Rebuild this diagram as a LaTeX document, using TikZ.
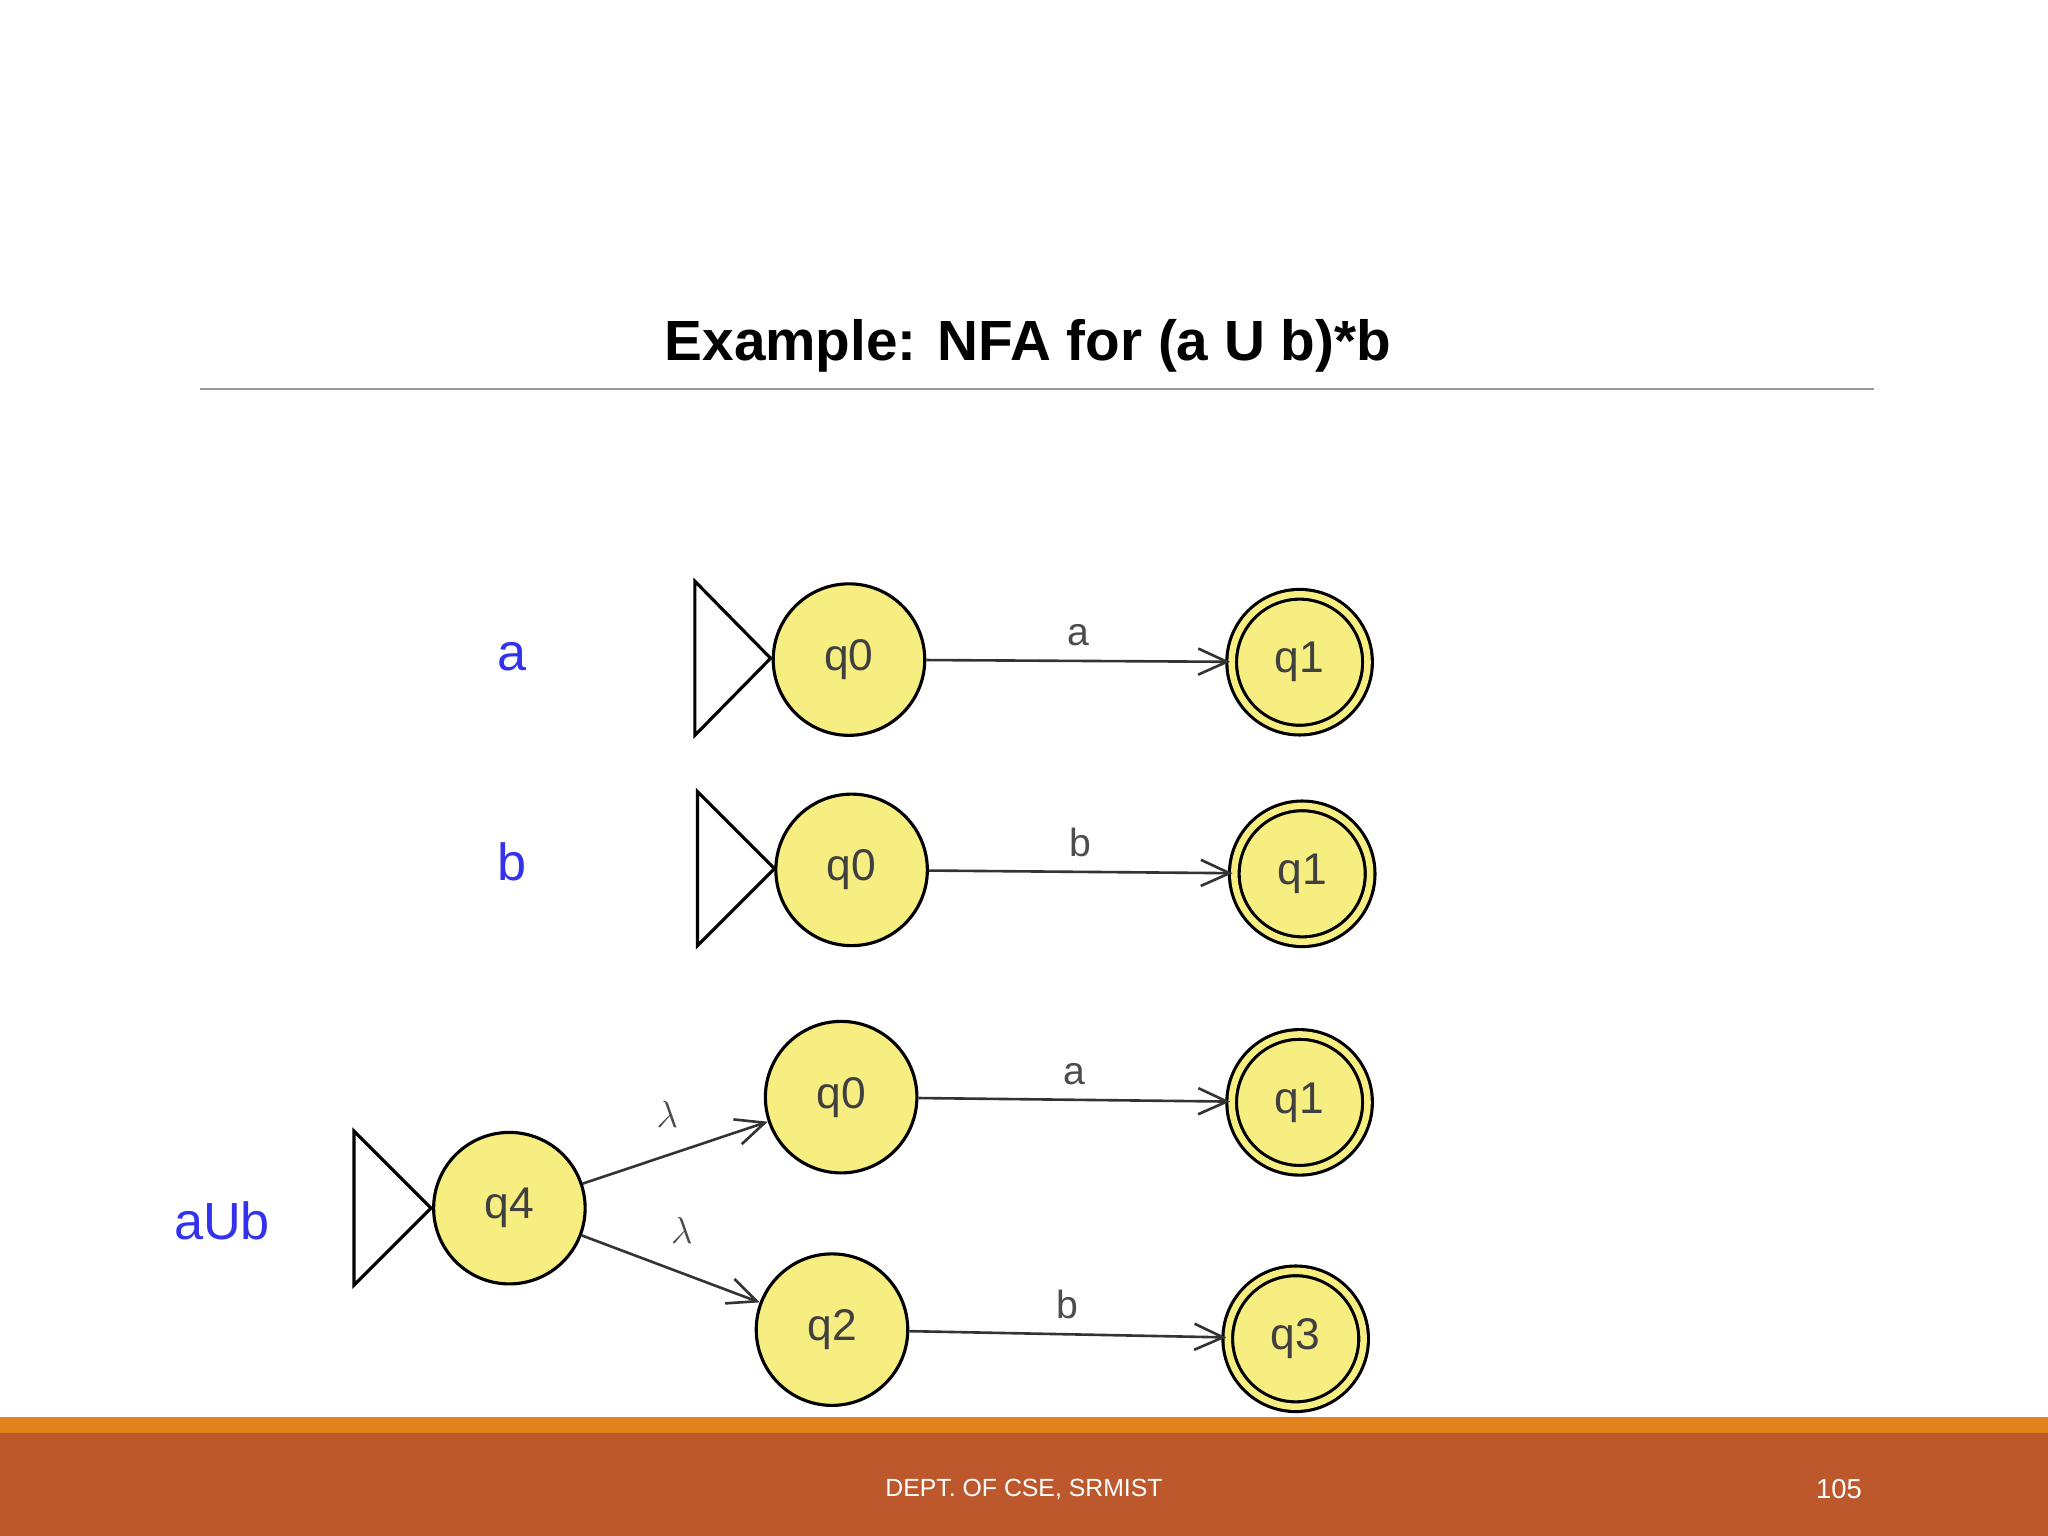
\documentclass[tikz,border=0pt]{standalone}
\usepackage{fontspec}
\setmainfont{Liberation Sans}
\usetikzlibrary{arrows.meta}
\definecolor{sy}{HTML}{F6EE80}
\definecolor{band}{HTML}{BD582C}
\definecolor{stripe}{HTML}{E2821C}
\definecolor{lblue}{HTML}{3333EE}
\tikzset{
 st/.style={circle,draw=black,line width=1.2pt,fill=sy,minimum size=58pt,inner sep=0pt,font=\fontsize{17}{17}\selectfont,text=black!75},
 acc/.style={st,double=sy,double distance=2.5pt,minimum size=52pt},
 tr/.style={-{Straight Barb[length=11pt,width=10pt,line width=1pt]},line width=1pt,black!80},
 lab/.style={font=\fontsize{15}{15}\selectfont,text=black!70},
 big/.style={font=\fontsize{20}{20}\selectfont,text=lblue},
 start/.style={draw=black,line width=1.2pt,fill=white}
}
\begin{document}
\begin{tikzpicture}[x=0.5pt,y=-0.5pt]
\useasboundingbox (0,0) rectangle (1568,1176);
\fill[band] (0,1097) rectangle (1568,1176);
\fill[stripe] (0,1085) rectangle (1568,1097);
\node[font=\bfseries\fontsize{21.7}{22}\selectfont] (title) at (787,265) {Example: NFA for (a U b)*b};
\draw[black!40,line width=0.6pt] (153,298) coordinate (l1) -- (1435,298) coordinate (l2);
\node[text=white,font=\fontsize{9.5}{10}\selectfont] (foot) at (784,1140) {DEPT. OF CSE, SRMIST};
\node[text=white,font=\fontsize{10.5}{11}\selectfont] (pg) at (1408,1140) {105};
% row 1
\draw[start] (532,445) -- (532,563) -- (590,504) -- cycle;
\node[st] (a0) at (650,505) {q0};
\node[acc] (a1) at (995,507) {q1};
\draw[tr] (a0) -- node[lab,above,yshift=2pt]{a} (a1);
\node[big] (la) at (392,503) {a};
% row 2
\draw[start] (534,606) -- (534,724) -- (593,665) -- cycle;
\node[st] (b0) at (652,666) {q0};
\node[acc] (b1) at (997,669) {q1};
\draw[tr] (b0) -- node[lab,above,yshift=2pt]{b} (b1);
\node[big] (lb) at (392,660) {b};
% row 3
\draw[start] (271,866) -- (271,984) -- (330,925) -- cycle;
\node[st] (q4) at (390,925) {q4};
\node[st] (c0) at (644,840) {q0};
\node[acc] (c1) at (995,844) {q1};
\node[st] (q2) at (637,1018) {q2};
\node[acc] (q3) at (992,1025) {q3};
\draw[tr] (q4) -- (c0);
\draw[tr] (q4) -- (q2);
\node[lab] (l1b) at (511,853) {$\lambda$};
\node[lab] (l2b) at (522,942) {$\lambda$};
\draw[tr] (c0) -- node[lab,above,yshift=2pt]{a} (c1);
\draw[tr] (q2) -- node[lab,above,yshift=2pt]{b} (q3);
\node[big] (lab3) at (170,935) {aUb};
\end{tikzpicture}
\end{document}
